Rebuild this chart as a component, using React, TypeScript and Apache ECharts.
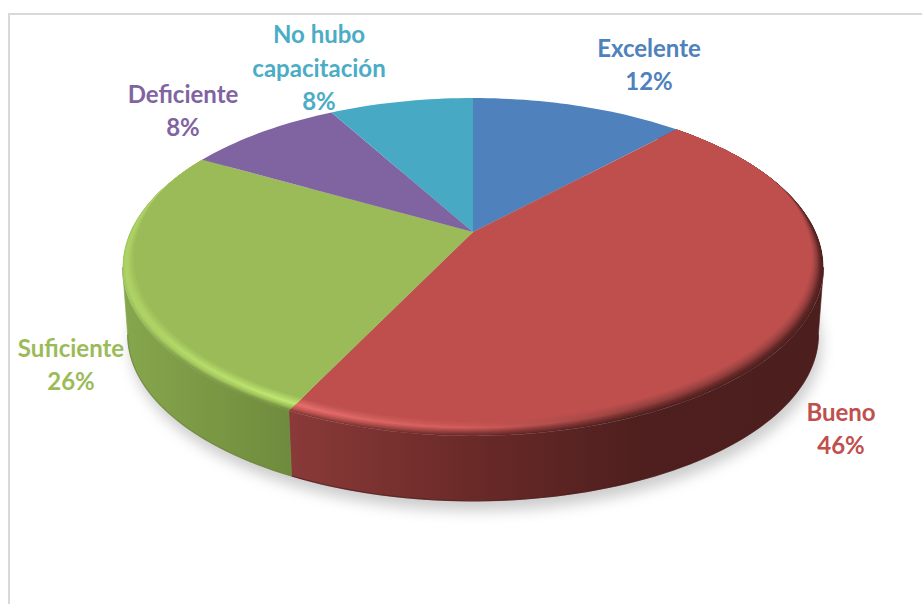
import React, { useEffect, useRef } from "react";
import * as echarts from "echarts";

const categories = ["Excelente", "Bueno", "Suficiente", "Deficiente", "No hubo\ncapacitación"];
const values = [12, 45.2, 26, 8.7, 8.1];
const percentLabels = ["12%", "46%", "26%", "8%", "8%"];
const faceColors = ["#4f81bd", "#bf4f4c", "#9bbb59", "#8064a2", "#47a9c3"];
const labelColors = ["#4f81bd", "#c0504d", "#9bbb59", "#8064a2", "#4bacc6"];
const labelCenters = [[649, 64], [841, 428], [71, 364], [183, 110], [319, 67]];

// perspective projection of the pie disc
const CX = 473, CY = 232, A = 161.7, B = 343, K = -0.207;
const DEPTH_SCALE = 0.985, DEPTH_Y = 300;
const SIL_R = 102, SIL_L = 258;

const total = values.reduce((s, v) => s + v, 0);
const startAngles: number[] = [];
values.reduce((acc, v) => { startAngles.push((acc / total) * 360); return acc + v; }, 0);

const rad = (d: number) => (d * Math.PI) / 180;
function top(theta: number, r = 1, lift = 0): number[] {
  const u = r * Math.sin(rad(theta)), v = -r * Math.cos(rad(theta)), d = 1 + K * v;
  return [CX + (B * u) / d, CY + (A * v) / d - lift];
}
function bottom(theta: number): number[] {
  const u = Math.sin(rad(theta)), v = -Math.cos(rad(theta)), d = 1 + K * v;
  return [CX + (DEPTH_SCALE * B * u) / d, DEPTH_Y + (DEPTH_SCALE * A * v) / d];
}
function arc(a0: number, a1: number, f: (t: number) => number[]): number[][] {
  const n = Math.max(2, Math.ceil((a1 - a0) / 1.5));
  const out: number[][] = [];
  for (let i = 0; i <= n; i++) out.push(f(a0 + ((a1 - a0) * i) / n));
  return out;
}
const hex = (c: string) => [1, 3, 5].map((i) => parseInt(c.slice(i, i + 2), 16));
function mix(a: string, b: string, t: number): string {
  const x = hex(a), y = hex(b);
  return "#" + x.map((v, i) => Math.round(v + (y[i] - v) * t).toString(16).padStart(2, "0")).join("");
}
const X0 = 121, X1 = 825;
const frac = (x: number) => (x - X0) / (X1 - X0);

// wall gradient and bevel ring colours per x position (outer rim → inner face)
const wallStops: Record<number, [number, string[]][]> = {
  1: [
    [289, ["#8a3a38", "#c85a57", "#ea6e6c", "#d0605d", "#bf4f4c"]],
    [470, ["#6a2a28", "#99403e", "#d05c59", "#c45250", "#bf4f4c"]],
    [640, ["#4e1f1e", "#6f2c2b", "#93403e", "#a84847", "#bf4f4c"]],
    [825, ["#4c1e1d", "#5f2625", "#8a3a38", "#a84847", "#bf4f4c"]],
  ],
  2: [
    [125, ["#a0c75e", "#b0d466", "#aacc62", "#a1c25c", "#9bbb59"]],
    [180, ["#7f9d47", "#a7cc60", "#b4da69", "#a5c95f", "#9bbb59"]],
    [290, ["#6f8b3d", "#a0c35a", "#c0e873", "#aed264", "#9bbb59"]],
  ],
};
const wallGradients: Record<number, [number, string][]> = {
  1: [[289, "#8a3a38"], [470, "#6a2a28"], [640, "#4e1f1e"], [825, "#4c1e1d"]],
  2: [[125, "#86a64c"], [290, "#6f8b3d"]],
};
const LEVELS = 12;
function ringColor(stops: string[], level: number): string {
  const p = (level / LEVELS) * (stops.length - 1);
  const i = Math.min(stops.length - 2, Math.floor(p));
  return mix(stops[i], stops[i + 1], p - i);
}
function gradient(stops: [number, string][]) {
  return new echarts.graphic.LinearGradient(
    X0, 0, X1, 0,
    stops.map(([x, c]) => ({ offset: Math.max(0, Math.min(1, frac(x))), color: c })),
    true
  );
}
function bevelWeight(theta: number): number {
  const v = -Math.cos(rad(theta));
  return Math.max(0, Math.min(1, (v + 0.6) / 0.6));
}
const rimPoint = (t: number, s: number) => {
  const w = bevelWeight(t);
  return top(t, 1 - s * 0.032 * w, s * 7 * w);
};

function renderSlice(params: any) {
  const i = params.dataIndex;
  const a0 = startAngles[i];
  const a1 = a0 + (values[i] / total) * 360;
  const children: any[] = [];
  const stopsDef = wallStops[i];
  if (stopsDef) {
    const w0 = Math.max(a0, SIL_R), w1 = Math.min(a1, SIL_L);
    const pts = [...arc(w0, w1, (t) => top(t)), ...arc(w0, w1, bottom).reverse()];
    const wall = gradient(wallGradients[i]);
    children.push({ type: "polygon", shape: { points: pts }, style: { fill: wall, stroke: wall, lineWidth: 0.6 } });
    children.push({
      type: "polyline",
      shape: { points: arc(w0, w1, bottom) },
      style: { fill: "none", stroke: i === 1 ? "#4a1b1a" : "#66803a", lineWidth: 1.2, opacity: 0.7 },
    });
    // bevel strips, clipped to the slice's own wedge so that neighbouring slices meet on a straight radius
    const e0 = a0 - 5, e1 = a1 + 5;
    const bevel: any[] = [];
    for (let l = 0; l < LEVELS; l++) {
      const outer = arc(e0, e1, (t) => rimPoint(t, l / LEVELS));
      const inner = arc(e0, e1, (t) => top(t, 0.9, 0)).reverse();
      bevel.push({
        type: "polygon",
        shape: { points: [...outer, ...inner] },
        style: { fill: gradient(stopsDef.map(([x, s]) => [x, ringColor(s, l)] as [number, string])) },
      });
    }
    bevel.push({
      type: "polygon",
      shape: { points: [[CX, CY], ...arc(e0, e1, (t) => rimPoint(t, 1))] },
      style: { fill: faceColors[i] },
    });
    children.push({
      type: "group",
      clipPath: { type: "polygon", shape: { points: [[CX, CY], ...arc(a0, a1, (t) => top(t))] } },
      children: bevel,
    });
  } else {
    children.push({
      type: "polygon",
      shape: { points: [[CX, CY], ...arc(a0, a1, (t) => top(t))] },
      style: { fill: faceColors[i] },
    });
  }
  const [lx, ly] = labelCenters[i];
  children.push({
    type: "text",
    x: lx,
    y: ly,
    z2: 50,
    style: {
      text: `${categories[i]}\n${percentLabels[i]}`,
      fill: labelColors[i],
      fontFamily: "Lato",
      fontWeight: "bold",
      fontSize: 24,
      lineHeight: 33.5,
      align: "center",
      verticalAlign: "middle",
    },
  });
  return { type: "group", children };
}

function renderShadow() {
  return {
    type: "polygon",
    shape: { points: arc(0, 360, bottom) },
    style: {
      fill: "#c8c8c8",
      shadowColor: "rgba(0,0,0,0.2)",
      shadowBlur: 14,
      shadowOffsetY: 10,
      shadowOffsetX: 3,
    },
  };
}

export default function App() {
  const ref = useRef<HTMLDivElement>(null);
  useEffect(() => {
    const chart = echarts.init(ref.current!, undefined, { renderer: "svg" });
    chart.setOption({
      animation: false,
      backgroundColor: "#ffffff",
      graphic: [{
        type: "rect",
        silent: true,
        z: -10,
        shape: { x: 9, y: 14, width: 1000, height: 800 },
        style: { fill: "#ffffff", stroke: "#d9d9d9", lineWidth: 2 },
      }],
      series: [
        { type: "custom", coordinateSystem: "none", z: 1, silent: true, data: [0], renderItem: renderShadow },
        {
          type: "custom",
          coordinateSystem: "none",
          z: 2,
          silent: true,
          data: values.map((v, i) => ({ name: categories[i], value: v })),
          renderItem: renderSlice,
        },
      ],
    });
    return () => chart.dispose();
  }, []);
  return <div ref={ref} style={{ position: "absolute", left: 0, top: 0, width: 922, height: 604 }} />;
}
